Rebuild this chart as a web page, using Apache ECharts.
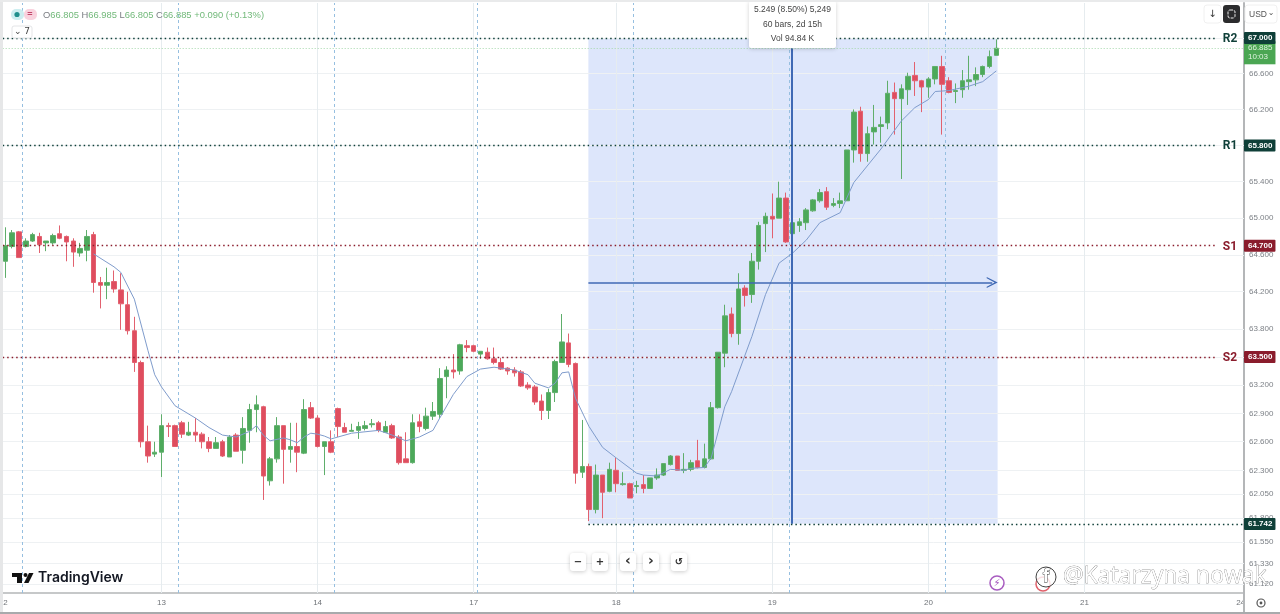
<!DOCTYPE html>
<html>
<head>
<meta charset="utf-8">
<style>html,body{margin:0;padding:0;background:#fff}#c{width:1280px;height:614px}</style>
<script src="https://cdn.jsdelivr.net/npm/echarts@6/dist/echarts.min.js"></script>
</head>
<body>
<div id="c"></div>
<script>
var opens = [64.53,64.69,64.85,64.69,64.75,64.80,64.73,64.73,64.83,64.80,64.75,64.62,64.65,64.82,64.30,64.27,64.31,64.22,64.06,63.78,63.44,62.60,62.47,62.49,62.77,62.77,62.80,62.67,62.70,62.68,62.60,62.53,62.60,62.44,62.67,62.51,62.72,62.94,62.97,62.19,62.42,62.77,62.52,62.55,62.48,62.96,62.85,62.55,62.60,62.95,62.75,62.71,62.72,62.74,62.78,62.80,62.70,62.77,62.65,62.42,62.38,62.81,62.74,62.87,62.89,63.29,63.36,63.35,63.62,63.62,63.53,63.55,63.48,63.44,63.38,63.36,63.34,63.20,63.18,63.03,62.93,63.12,63.44,63.65,63.43,62.28,62.34,61.89,62.25,62.08,62.30,62.15,62.16,62.13,62.15,62.11,62.22,62.25,62.36,62.45,62.30,62.31,62.40,62.33,62.42,62.96,63.54,63.96,63.75,64.24,64.17,64.53,64.94,65.02,65.00,65.22,64.83,64.92,64.95,65.08,65.19,65.29,65.14,65.16,65.19,65.75,66.18,65.71,65.95,66.01,66.05,66.39,66.32,66.42,66.58,66.52,66.45,66.54,66.68,66.52,66.40,66.42,66.51,66.53,66.59,66.68,66.805];
var closes = [64.70,64.84,64.57,64.75,64.82,64.71,64.75,64.81,64.78,64.74,64.63,64.67,64.80,64.30,64.27,64.30,64.23,64.07,63.78,63.44,62.60,62.45,62.49,62.77,62.76,62.55,62.68,62.70,62.67,62.60,62.53,62.59,62.45,62.65,62.50,62.74,62.94,62.99,62.24,62.42,62.77,62.52,62.55,62.49,62.94,62.85,62.55,62.60,62.49,62.76,62.70,62.72,62.76,62.77,62.79,62.72,62.76,62.64,62.38,62.38,62.80,62.76,62.87,62.92,63.27,63.36,63.34,63.63,63.60,63.56,63.56,63.48,63.44,63.37,63.35,63.33,63.19,63.17,63.02,62.93,63.12,63.45,63.66,63.42,62.27,62.34,61.89,62.25,62.07,62.31,62.16,62.16,62.01,62.14,62.11,62.22,62.25,62.37,62.45,62.30,62.31,62.38,62.33,62.42,62.96,63.55,63.94,63.75,64.23,64.16,64.53,64.92,65.02,64.99,65.22,64.74,64.95,64.96,65.09,65.20,65.28,65.12,65.16,65.19,65.75,66.17,65.71,65.93,66.00,66.03,66.38,66.32,66.43,66.57,66.52,66.45,66.54,66.68,66.48,66.39,66.41,66.52,66.53,66.59,66.68,66.79,66.885];
var lows = [64.35,64.67,64.57,64.68,64.74,64.62,64.64,64.71,64.77,64.53,64.47,64.58,64.53,64.19,64.02,64.12,64.19,63.79,63.74,63.34,62.54,62.38,62.44,62.23,62.65,62.55,62.64,62.66,62.60,62.53,62.49,62.53,62.44,62.44,62.50,62.37,62.59,62.70,61.99,62.14,62.38,62.16,62.38,62.28,62.47,62.84,62.54,62.25,62.48,62.65,62.70,62.71,62.63,62.72,62.75,62.70,62.70,62.63,62.36,62.38,62.37,62.70,62.72,62.83,62.85,63.06,63.27,63.31,63.55,63.55,63.48,63.47,63.42,63.36,63.31,63.29,63.18,63.15,62.99,62.83,62.84,63.02,63.44,63.39,62.16,62.22,61.77,61.85,61.80,62.07,62.07,62.14,62.01,62.06,62.06,62.11,62.20,62.24,62.35,62.30,62.27,62.29,62.32,62.32,62.41,62.95,63.39,63.71,63.63,64.04,64.08,64.44,64.63,64.78,65.00,64.73,64.69,64.85,64.87,65.07,65.17,65.09,65.12,65.11,65.19,65.61,65.62,65.62,65.81,65.83,65.98,65.92,65.43,66.25,66.35,66.17,66.33,66.48,65.92,66.38,66.27,66.33,66.42,66.46,66.56,66.66,66.805];
var highs = [64.90,64.87,64.86,64.78,64.84,64.84,64.75,64.83,64.92,64.81,64.78,64.73,64.87,64.85,64.36,64.46,64.43,64.40,64.20,63.93,63.46,62.77,62.60,62.89,62.80,62.78,62.82,62.81,62.85,62.70,62.65,62.65,62.62,62.67,62.69,62.86,63.00,63.09,62.98,62.44,62.86,62.77,62.80,62.80,63.05,63.02,62.88,62.60,62.72,62.96,62.80,62.79,62.81,62.82,62.84,62.82,62.82,62.79,62.67,62.70,62.89,62.89,62.96,63.02,63.38,63.40,63.53,63.64,63.68,63.63,63.56,63.60,63.60,63.49,63.39,63.39,63.36,63.23,63.20,63.10,63.16,63.47,63.96,63.75,63.44,62.83,62.37,62.36,62.25,62.38,62.43,62.28,62.17,62.19,62.25,62.22,62.32,62.37,62.46,62.45,62.48,62.41,62.62,62.58,63.02,63.55,64.06,64.03,64.40,64.27,64.62,64.96,65.06,65.27,65.40,65.28,64.98,65.00,65.11,65.21,65.32,65.34,65.22,65.28,65.75,66.20,66.23,66.01,66.25,66.12,66.52,66.50,66.48,66.61,66.73,66.53,66.56,66.68,66.80,66.56,66.49,66.64,66.80,66.67,66.69,66.86,66.985];

var emaBars = [13,16,17,19,21,22,23,25,28,30,32,33,34,36,37,38,39,41,42,43,44,45,46,47,48,51,55,57,59,61,63,64,66,68,70,72,75,77,78,80,81,82,83,84,86,88,90,93,94,96,98,100,101,103,104,106,107,110,112,114,116,118,120,123,125,129,132,134,136,137,139,142,144,146];
var emaValues = [64.61,64.47,64.41,64.12,63.57,63.31,63.18,62.98,62.85,62.75,62.67,62.66,62.65,62.71,62.77,62.67,62.61,62.64,62.62,62.59,62.65,62.69,62.68,62.66,62.63,62.69,62.72,62.67,62.61,62.65,62.72,62.85,63.10,63.29,63.37,63.39,63.36,63.31,63.22,63.17,63.22,63.33,63.34,63.06,62.76,62.54,62.43,62.27,62.25,62.24,62.31,62.30,62.32,62.33,62.43,62.97,63.13,63.72,64.17,64.51,64.62,64.76,64.95,65.06,65.39,65.76,66.07,66.22,66.31,66.40,66.41,66.46,66.51,66.63];

var dayBars = [0,23,46,69,90,113,136,159,182];
var dayNames = ['2','13','14','17','18','19','20','21','24'];
var sessionBars = [2.5,25.5,48.5,69.5,92.5,115.5,138.5];
var priceTicks = [67,66.6,66.2,65.8,65.4,65,64.6,64.2,63.8,63.5,63.2,62.9,62.6,62.3,62.05,61.8,61.55,61.33,61.12];
var levelNames = ['R2','R1','S1','S2'];
var levelValues = [67,65.8,64.7,63.5];
var levelColors = ['#0f3f38','#0f3f38','#8a1c2c','#8a1c2c'];
var barSlots = 183;
var rangeStartBar = 86, rangeEndBar = 146, crossBar = 116;
var rangeLow = 61.742, rangeHigh = 67, crossPrice = 64.30, lastPrice = 66.885;

var categories = [];
for (var s = 0; s < barSlots; s++) {
  var k = dayBars.indexOf(s);
  categories.push(k >= 0 ? dayNames[k] : '');
}
var candleData = opens.map(function (o, i) { return [o, closes[i], lows[i], highs[i]]; });
var emaData = emaBars.map(function (b, i) { return [b, emaValues[i]]; });

var FONT = '"Liberation Sans", Arial, sans-serif';
var chevron = 'path://M0,10 L5,0 L10,10 L8.8,10 L5,2.8 L1.2,10 Z';
var HIDDEN_LINE = { color: 'rgba(0,0,0,0)', width: 0 };

function tag(value, color, text) {
  return {
    yAxis: value,
    lineStyle: HIDDEN_LINE,
    label: {
      show: true, position: 'end', distance: 0, formatter: text || value.toFixed(3),
      backgroundColor: color, color: '#fff', fontSize: 8, fontWeight: 'bold', fontFamily: FONT,
      padding: [2, 3, 2, 4], borderRadius: 1, lineHeight: 8
    }
  };
}

var levelPairs = levelValues.map(function (v, i) {
  return [{
    xAxis: -0.4, yAxis: v,
    lineStyle: { color: levelColors[i], type: [1.5, 3], width: 1.4 },
    label: { show: true, position: 'end', distance: 6, offset: [0, 1], formatter: levelNames[i], color: levelColors[i], fontSize: 12, fontWeight: 'bold', fontFamily: 'Roboto' }
  }, { xAxis: 178.5, yAxis: v }];
});

var option = {
  animation: false,
  backgroundColor: '#fff',
  grid: { left: 2, top: 3, width: 1242, height: 590, containLabel: false },
  xAxis: [{
    type: 'category', data: categories, boundaryGap: true,
    axisLine: { show: true, onZero: false, lineStyle: { color: '#b4b6b8', width: 1.5 } },
    axisTick: { show: false }, splitLine: { show: false },
    axisLabel: {
      interval: function (i) { return dayBars.indexOf(i) >= 0; },
      color: '#6f7378', fontSize: 8, fontFamily: FONT, margin: 6, showMinLabel: true, showMaxLabel: true, hideOverlap: false
    }
  }, {
    type: 'value', min: -0.5, max: barSlots - 0.5, show: false, splitLine: { show: false }
  }],
  yAxis: [{
    type: 'log', logBase: 10, position: 'right', min: 61.027, max: 67.396,
    axisLine: { show: true, onZero: false, lineStyle: { color: '#b4b6b8', width: 2 } },
    axisTick: { show: false }, axisLabel: { show: false }, splitLine: { show: false }, minorTick: { show: false }
  }],
  series: [
    {
      name: 'Range', type: 'line', xAxisIndex: 1, yAxisIndex: 0, data: [], silent: true,
      markArea: {
        silent: true, z: 1,
        itemStyle: { color: 'rgba(45,98,230,0.16)' },
        data: [[{ xAxis: rangeStartBar - 0.1, yAxis: rangeHigh }, { xAxis: rangeEndBar + 0.2, yAxis: rangeLow }]]
      }
    },
    {
      name: 'Grid', type: 'line', xAxisIndex: 1, yAxisIndex: 0, data: [], silent: true,
      markLine: {
        silent: true, symbol: 'none', z: 1,
        lineStyle: { color: '#eef1f3', width: 1, type: 'solid' },
        label: { show: true, position: 'end', distance: 5, color: '#7d8187', fontSize: 8, fontFamily: FONT, formatter: function (p) { return p.value.toFixed(3); } },
        emphasis: { disabled: true },
        data: priceTicks.map(function (v) { return { yAxis: v }; })
      }
    },
    {
      name: 'Days', type: 'line', xAxisIndex: 1, yAxisIndex: 0, data: [], silent: true,
      markLine: {
        silent: true, symbol: 'none', z: 1,
        lineStyle: { color: '#e6ecef', width: 1, type: 'solid' }, label: { show: false },
        data: dayBars.slice(1, 8).map(function (b) { return { xAxis: b }; })
      }
    },
    {
      name: 'Sessions', type: 'line', xAxisIndex: 1, yAxisIndex: 0, data: [], silent: true,
      markLine: {
        silent: true, symbol: 'none', z: 1,
        lineStyle: { color: '#96bfe0', width: 1, type: [3, 3] }, label: { show: false },
        data: sessionBars.map(function (b) { return { xAxis: b }; })
      }
    },
    {
      name: 'XAUUSD', type: 'candlestick', xAxisIndex: 0, yAxisIndex: 0, data: candleData, barWidth: 5, z: 2, silent: true,
      itemStyle: { color: '#4ca95a', color0: '#df4d5f', borderColor: '#5fae6b', borderColor0: '#e2616f', borderWidth: 1 }
    },
    {
      name: 'EMA', type: 'line', xAxisIndex: 0, yAxisIndex: 0, data: emaData, showSymbol: false, smooth: false, z: 3, silent: true,
      lineStyle: { color: '#7f9ccc', width: 1 }
    },
    {
      name: 'Measure', type: 'line', xAxisIndex: 1, yAxisIndex: 0, data: [], silent: true,
      markLine: {
        silent: true, symbol: 'none', z: 4,
        lineStyle: { color: '#3f69b4', width: 2, type: 'solid' }, label: { show: false },
        data: [
          [{ xAxis: crossBar - 0.1, yAxis: rangeHigh }, { xAxis: crossBar - 0.1, yAxis: rangeLow }],
          [{ xAxis: rangeStartBar - 0.1, yAxis: crossPrice, symbol: 'none', lineStyle: { width: 1.5, color: '#3f69b4', type: 'solid' } },
           { xAxis: rangeEndBar - 0.6, yAxis: crossPrice, symbol: chevron, symbolSize: 11 }]
        ]
      }
    },
    {
      name: 'Levels', type: 'line', xAxisIndex: 1, yAxisIndex: 0, data: [], silent: true,
      markLine: {
        silent: true, symbol: 'none', z: 5,
        data: levelPairs.concat([
          [{ xAxis: rangeStartBar - 0.1, yAxis: rangeLow, lineStyle: { color: '#0f3f38', type: [1.5, 3], width: 1.4 }, label: { show: false } }, { xAxis: barSlots - 0.5, yAxis: rangeLow }],
          [{ xAxis: -0.4, yAxis: lastPrice, lineStyle: { color: '#a5d8ab', type: [1, 2], width: 1 }, label: { show: false } }, { xAxis: barSlots - 0.5, yAxis: lastPrice }]
        ])
      }
    },
    {
      name: 'Tags', type: 'line', xAxisIndex: 1, yAxisIndex: 0, data: [], silent: true,
      markLine: {
        silent: true, symbol: 'none', z: 6,
        data: [
          tag(65.8, '#0f3f38'), tag(64.7, '#8a1c2c'), tag(63.5, '#8a1c2c'), tag(61.742, '#0f3f38'),
          { yAxis: lastPrice, lineStyle: HIDDEN_LINE, label: { show: true, position: 'end', distance: 0, offset: [0, 5], formatter: lastPrice.toFixed(3) + '\n10:03', backgroundColor: '#4ba653', color: '#dff3df', fontSize: 8, fontFamily: FONT, padding: [3, 3, 2, 4], lineHeight: 9 } },
          tag(67, '#0f3f38')
        ]
      }
    }
  ],
  graphic: [
    { type: 'rect', z: 50, silent: true, shape: { x: 0, y: 0, width: 3, height: 614 }, style: { fill: '#e6e7e8' } },
    { type: 'rect', z: 50, silent: true, shape: { x: 0, y: 0, width: 1280, height: 2 }, style: { fill: '#e9eaeb' } },
    { type: 'rect', z: 50, silent: true, shape: { x: 0, y: 612, width: 1280, height: 2 }, style: { fill: '#a8aaac' } },
    { type: 'rect', z: 50, silent: true, shape: { x: 1244.5, y: 594, width: 36, height: 18 }, style: { fill: '#fff' } },
    { type: 'rect', z: 51, silent: true, shape: { x: 1243, y: 593, width: 2, height: 19 }, style: { fill: '#b4b6b8' } },
    { type: 'circle', z: 51, silent: true, shape: { cx: 1261, cy: 603, r: 4 }, style: { fill: '#fff', stroke: '#555', lineWidth: 1.2 } },
    { type: 'circle', z: 51, silent: true, shape: { cx: 1261, cy: 603, r: 1.4 }, style: { fill: '#555' } },

    // legend row
    { type: 'rect', z: 20, silent: true, shape: { x: 11, y: 9, width: 13, height: 11, r: 5 }, style: { fill: '#cdeef0' } },
    { type: 'circle', z: 21, silent: true, shape: { cx: 17, cy: 14.5, r: 2.6 }, style: { fill: '#1f8f8c' } },
    { type: 'rect', z: 20, silent: true, shape: { x: 24, y: 9, width: 13, height: 11, r: 5 }, style: { fill: '#f9d3de' } },
    { type: 'text', z: 21, silent: true, x: 30, y: 14.5, style: { text: '=', fill: '#c2476a', font: 'bold 9px ' + FONT, align: 'center', verticalAlign: 'middle' } },
    { type: 'text', z: 21, silent: true, x: 43, y: 15, style: {
      text: '{g|O}{v|66.805} {g|H}{v|66.985} {g|L}{v|66.805} {g|C}{v|66.885} {v|+0.090 (+0.13%)}',
      verticalAlign: 'middle', font: '9.4px ' + FONT,
      rich: { g: { fill: '#7a7d82', font: '9.4px ' + FONT }, v: { fill: '#72b97a', font: '9.4px ' + FONT } }
    } },
    { type: 'rect', z: 20, silent: true, shape: { x: 12, y: 26, width: 20, height: 12, r: 2 }, style: { fill: '#fff', stroke: '#e4e5e7', lineWidth: 1 } },
    { type: 'text', z: 21, silent: true, x: 22, y: 32, style: { text: '⌄ 7', fill: '#444', font: '9px "DejaVu Sans"', align: 'center', verticalAlign: 'middle' } },

    // measure tooltip
    { type: 'rect', z: 20, silent: true, shape: { x: 749, y: 1, width: 87, height: 47, r: 2 }, style: { fill: '#fff', shadowBlur: 4, shadowColor: 'rgba(0,0,0,0.18)', shadowOffsetY: 1 } },
    { type: 'text', z: 21, silent: true, x: 792.5, y: 10, style: { text: '5.249 (8.50%) 5,249', fill: '#444', font: '8.5px ' + FONT, align: 'center', verticalAlign: 'middle' } },
    { type: 'text', z: 21, silent: true, x: 792.5, y: 25, style: { text: '60 bars, 2d 15h', fill: '#444', font: '8.5px ' + FONT, align: 'center', verticalAlign: 'middle' } },
    { type: 'text', z: 21, silent: true, x: 792.5, y: 39, style: { text: 'Vol 94.84 K', fill: '#444', font: '8.5px ' + FONT, align: 'center', verticalAlign: 'middle' } },

    // top right controls
    { type: 'rect', z: 20, silent: true, shape: { x: 1204, y: 5, width: 17, height: 18, r: 3 }, style: { fill: '#fff', stroke: '#f0f0f0', lineWidth: 1 } },
    { type: 'text', z: 21, silent: true, x: 1212.5, y: 14.5, style: { text: '↓', fill: '#333', font: '10px "DejaVu Sans"', align: 'center', verticalAlign: 'middle' } },
    { type: 'rect', z: 20, silent: true, shape: { x: 1223, y: 5, width: 17, height: 18, r: 3 }, style: { fill: '#2b2b2d' } },
    { type: 'rect', z: 21, silent: true, shape: { x: 1228, y: 10, width: 7, height: 8, r: 2 }, style: { fill: 'none', stroke: '#eee', lineWidth: 1, lineDash: [3, 1] } },
    { type: 'rect', z: 20, silent: true, shape: { x: 1245, y: 5, width: 32, height: 18, r: 3 }, style: { fill: '#fff', stroke: '#f0f0f0', lineWidth: 1 } },
    { type: 'text', z: 21, silent: true, x: 1249, y: 14.5, style: { text: 'USD', fill: '#555', font: '8.5px ' + FONT, verticalAlign: 'middle' } },
    { type: 'text', z: 21, silent: true, x: 1271, y: 13, style: { text: '⌄', fill: '#555', font: '8px "DejaVu Sans"', align: 'center', verticalAlign: 'middle' } },

    // zoom buttons
    { type: 'rect', z: 20, silent: true, shape: { x: 570, y: 553, width: 16, height: 18, r: 3 }, style: { fill: '#fff', shadowBlur: 4, shadowColor: 'rgba(0,0,0,0.2)', shadowOffsetY: 1 } },
    { type: 'text', z: 21, silent: true, x: 578, y: 562, style: { text: '−', fill: '#333', font: 'bold 10px "DejaVu Sans"', align: 'center', verticalAlign: 'middle' } },
    { type: 'rect', z: 20, silent: true, shape: { x: 592, y: 553, width: 16, height: 18, r: 3 }, style: { fill: '#fff', shadowBlur: 4, shadowColor: 'rgba(0,0,0,0.2)', shadowOffsetY: 1 } },
    { type: 'text', z: 21, silent: true, x: 600, y: 562, style: { text: '+', fill: '#333', font: 'bold 10px "DejaVu Sans"', align: 'center', verticalAlign: 'middle' } },
    { type: 'rect', z: 20, silent: true, shape: { x: 620, y: 553, width: 16, height: 18, r: 3 }, style: { fill: '#fff', shadowBlur: 4, shadowColor: 'rgba(0,0,0,0.2)', shadowOffsetY: 1 } },
    { type: 'text', z: 21, silent: true, x: 628, y: 561, style: { text: '‹', fill: '#333', font: 'bold 14px "DejaVu Sans"', align: 'center', verticalAlign: 'middle' } },
    { type: 'rect', z: 20, silent: true, shape: { x: 643, y: 553, width: 16, height: 18, r: 3 }, style: { fill: '#fff', shadowBlur: 4, shadowColor: 'rgba(0,0,0,0.2)', shadowOffsetY: 1 } },
    { type: 'text', z: 21, silent: true, x: 651, y: 561, style: { text: '›', fill: '#333', font: 'bold 14px "DejaVu Sans"', align: 'center', verticalAlign: 'middle' } },
    { type: 'rect', z: 20, silent: true, shape: { x: 671, y: 553, width: 16, height: 18, r: 3 }, style: { fill: '#fff', shadowBlur: 4, shadowColor: 'rgba(0,0,0,0.2)', shadowOffsetY: 1 } },
    { type: 'text', z: 21, silent: true, x: 679, y: 562, style: { text: '↺', fill: '#333', font: 'bold 10px "DejaVu Sans"', align: 'center', verticalAlign: 'middle' } },

    // TradingView logo
    { type: 'polygon', z: 20, silent: true, shape: { points: [[12, 573], [22, 573], [22, 583], [17, 583], [17, 577], [12, 577]] }, style: { fill: '#111' } },
    { type: 'circle', z: 20, silent: true, shape: { cx: 25.5, cy: 575, r: 2 }, style: { fill: '#111' } },
    { type: 'polygon', z: 20, silent: true, shape: { points: [[29, 573], [33.5, 573], [28.5, 583], [24, 583]] }, style: { fill: '#111' } },
    { type: 'text', z: 20, silent: true, x: 38, y: 578, style: { text: 'TradingView', fill: '#131722', font: '600 14px Inter', verticalAlign: 'middle' } },

    // bottom right badges and watermark
    { type: 'circle', z: 20, silent: true, shape: { cx: 997, cy: 583, r: 7 }, style: { fill: '#fff', stroke: '#a85cc0', lineWidth: 1.5 } },
    { type: 'text', z: 21, silent: true, x: 997, y: 583, style: { text: '⚡', fill: '#a85cc0', font: '10px "DejaVu Sans"', align: 'center', verticalAlign: 'middle' } },
    { type: 'circle', z: 20, silent: true, shape: { cx: 1043, cy: 584, r: 7 }, style: { fill: '#fff', stroke: '#e0606a', lineWidth: 1.5 } },
    { type: 'circle', z: 22, silent: true, shape: { cx: 1046, cy: 577, r: 10 }, style: { fill: 'rgba(255,255,255,0.8)', stroke: '#444', lineWidth: 1 } },
    { type: 'text', z: 23, silent: true, x: 1046, y: 577, style: { text: 'f', fill: '#fff', stroke: '#333', lineWidth: 0.8, font: 'bold 17px "Open Sans"', align: 'center', verticalAlign: 'middle' } },
    { type: 'text', z: 23, silent: true, x: 1063, y: 576, style: { text: '@Katarzyna nowak', fill: 'rgba(255,255,255,0.95)', stroke: '#444', lineWidth: 0.4, font: '23px "Open Sans"', verticalAlign: 'middle' } }
  ]
};
var chart = echarts.init(document.getElementById('c'), null, { renderer: 'canvas', width: 1280, height: 614 });
chart.setOption(option);
</script>
</body>
</html>
